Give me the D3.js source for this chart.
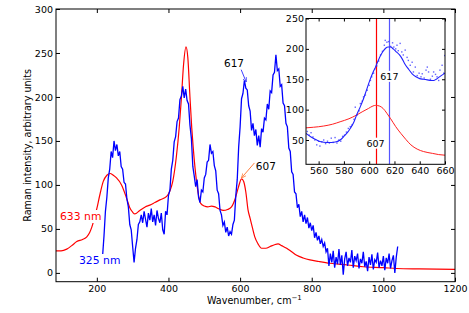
<!DOCTYPE html>
<html>
<head>
<meta charset="utf-8">
<script src="https://cdn.jsdelivr.net/npm/d3@7/dist/d3.min.js"></script>
<style>
  body { margin: 0; background: #fff; }
  svg { display: block; font-family: "DejaVu Sans", sans-serif; }
</style>
</head>
<body>
<script>
// 325 nm spectrum, sampled every 4 cm-1 starting at 216
const blueStart = 216, blueStep = 4;
const blue325 = [
  19, 42, 70, 86, 108, 118, 138, 131, 150, 139,
  146, 133, 138, 121, 118, 103, 101, 84, 75, 55,
  49, 30, 12, 28, 38, 55, 58, 66, 57, 70,
  61, 52, 68, 60, 73, 58, 66, 54, 71, 62,
  57, 68, 49, 44, 70, 66, 88, 94, 118, 128,
  149, 155, 172, 176, 197, 201, 212, 199, 209, 196,
  192, 168, 153, 121, 110, 98, 106, 86, 80, 94,
  92, 108, 112, 126, 128, 146, 136, 138, 122, 116,
  94, 90, 71, 66, 54, 58, 46, 52, 42, 47,
  44, 55, 60, 88, 106, 143, 166, 198, 204, 219,
  210, 208, 190, 184, 162, 170, 156, 163, 145, 156,
  143, 164, 160, 176, 174, 192, 186, 207, 205, 225,
  228, 248, 230, 232, 212, 214, 193, 190, 170, 166,
  142, 138, 115, 112, 92, 90, 74, 78, 64, 70,
  58, 66, 56, 63, 51, 57, 48, 54, 40, 46,
  37, 42, 33, 38, 30, 34, 24, 28, 8, 22,
  12, 25, 6, 18, 10, 27, 9, 20, -2, 16,
  24, 8, 17, 12, 26, 6, 19, 14, 22, 5,
  16, 11, 24, 7, 13, 2, 18, 9, 21, 4,
  15, 12, 23, 6, 14, 8, 19, 3, 17, 11,
  22, 5, 14, 20, 0, 18, 30
];

// 633 nm spectrum [wavenumber, intensity]
const red633 = [
  [86, 25], [100, 25], [116, 27], [130, 31], [144, 35.6], [160, 38], [172, 41], [180, 46],
  [186, 52], [193, 62], [200, 73], [208, 88], [218, 104], [228, 111], [237, 113], [246, 111],
  [255, 108], [269, 100], [283, 85], [292, 74], [300, 69], [306, 67], [320, 71], [335, 75],
  [348, 77], [362, 80], [376, 83], [395, 87], [404, 93], [412, 104], [422, 132], [430, 165],
  [436, 198], [442, 236], [449, 257], [454, 245], [460, 200], [465, 165], [469, 143], [474, 120],
  [479, 102], [484, 88], [490, 79], [500, 76], [510, 75], [520, 76], [530, 75], [540, 73],
  [553, 71], [565, 72], [576, 75], [586, 84], [595, 97], [604, 107], [610, 104], [616, 92],
  [622, 72], [628, 62], [634, 52], [641, 41], [650, 33], [660, 28], [672, 28], [684, 30],
  [696, 32], [706, 33], [716, 31], [730, 28], [744, 24], [758, 20], [776, 17], [795, 14.8],
  [820, 13], [851, 11], [900, 9], [944, 7], [1000, 6], [1037, 5], [1100, 4.5], [1200, 4]
];

// inset: zoom on 550-660 cm-1
const insetRed = [
  [550, 70], [556, 71], [564, 73], [571, 76], [577, 80], [584, 85], [590, 91], [595, 97],
  [599.5, 102], [603, 106], [605, 107], [608, 106], [611, 102], [614, 94], [617, 85], [621, 72],
  [625, 61], [629, 51], [633, 42], [638, 35], [643, 31], [650, 28], [655, 26], [660, 25]
];
const insetBlueFit = [
  [550, 61], [554, 55], [558.5, 50], [562, 47], [566, 46], [570, 46], [574, 47], [577, 50],
  [580, 56], [583, 63], [585, 69], [588, 80], [590, 91], [593, 105], [595.5, 118], [598, 133],
  [601, 151], [603, 161], [605, 170], [607, 180], [609, 189], [611, 196], [613, 201], [615, 203],
  [617, 203], [619, 200], [621, 196], [624, 190], [626, 184], [628, 176], [631, 167], [634, 159],
  [637, 154], [640, 151], [643, 150], [646, 149], [649, 148], [651, 148], [653, 150], [655, 153],
  [657, 156], [660, 160]
];
const insetBlueDots = [
  [551, 64], [552.5, 58], [554, 62], [555.5, 55], [557, 50], [558.5, 42], [560, 48], [561, 40],
  [562.5, 47], [564, 50], [565.5, 44], [567, 48], [568.5, 45], [570, 53], [571.5, 46], [573, 54],
  [574.5, 45], [576, 50], [577.5, 48], [579, 56], [580.5, 58], [582, 63], [583.5, 69], [585, 72],
  [586.5, 75], [588, 84], [589, 104], [590.5, 91], [592, 98], [593, 110], [594.5, 114], [595.5, 121],
  [597, 124], [598.5, 132], [600, 140], [601, 148], [602, 154], [603.5, 160], [604.5, 167], [606, 172],
  [607.5, 180], [609, 190], [610.5, 196], [612, 206], [612.7, 214], [614, 211], [615.3, 212], [617, 204],
  [618.5, 210], [619.5, 203], [621, 200], [622, 206], [623, 197], [624.5, 209], [625.8, 195], [627, 190],
  [628.5, 198], [630, 186], [631, 181], [632.5, 173], [634, 178], [635, 162], [636.5, 170], [638, 156],
  [639.5, 160], [641, 154], [642, 159], [643.5, 152], [645, 165], [646, 170], [647, 162], [648.5, 150],
  [650, 155], [651, 162], [652.5, 158], [653.7, 154], [655, 148], [656, 165], [657.7, 173], [659, 160],
  [659.8, 189]
];
const peakLines = [
  { wn: 605, label: "607", labelV: 39, color: "#ff0000" },
  { wn: 616, label: "617", labelV: 149, color: "#5555ff" }
];

const xTicks = [200, 400, 600, 800, 1000, 1200];
const yTicks = [0, 50, 100, 150, 200, 250, 300];
const insetXTicks = [560, 580, 600, 620, 640, 660];
const insetYTicks = [50, 100, 150, 200, 250];

const width = 469, height = 313;
const plot = { left: 56, right: 455, top: 9, bottom: 281.7 };
const box = { left: 306, right: 445, top: 18.5, bottom: 164.3 };

const svg = d3.select("body").append("svg")
  .attr("width", width)
  .attr("height", height);

const x = d3.scaleLinear([86, 1200], [plot.left, plot.right]);
const y = d3.scaleLinear([-10, 300], [plot.bottom, plot.top]);

svg.append("clipPath").attr("id", "clipMain")
  .append("rect")
  .attr("x", plot.left).attr("y", plot.top)
  .attr("width", plot.right - plot.left).attr("height", plot.bottom - plot.top);

const main = svg.append("g").attr("clip-path", "url(#clipMain)");

main.append("path")
  .datum(red633)
  .attr("d", d3.line().curve(d3.curveMonotoneX).x((d) => x(d[0])).y((d) => y(d[1])))
  .attr("fill", "none")
  .attr("stroke", "#ff0000")
  .attr("stroke-width", 1.2);

main.append("path")
  .datum(blue325.map((v, i) => [blueStart + i * blueStep, v]))
  .attr("d", d3.line().x((d) => x(d[0])).y((d) => y(d[1])))
  .attr("fill", "none")
  .attr("stroke", "#0000ff")
  .attr("stroke-width", 1.3);

// labels with white box behind
function boxedLabel(g, px, py, text, color, size, anchor) {
  const t = g.append("text")
    .attr("x", px).attr("y", py)
    .attr("fill", color)
    .attr("font-size", size)
    .attr("text-anchor", anchor || "start")
    .text(text);
  const b = t.node().getBBox();
  g.insert("rect", () => t.node())
    .attr("x", b.x - 1).attr("y", b.y)
    .attr("width", b.width + 2).attr("height", b.height)
    .attr("fill", "#fff");
  return t;
}

boxedLabel(svg, 60, 220, "633 nm", "#ff0000", 10.8);
boxedLabel(svg, 79, 264, "325 nm", "#0000ff", 10.8);

// annotations with arrows
svg.append("defs").selectAll("marker")
  .data([{ id: "arrBlue", c: "#4040ff" }, { id: "arrOrange", c: "#ff8040" }])
  .join("marker")
  .attr("id", (d) => d.id)
  .attr("viewBox", "0 0 10 10")
  .attr("refX", 9).attr("refY", 5)
  .attr("markerWidth", 5).attr("markerHeight", 5)
  .attr("orient", "auto")
  .append("path")
  .attr("d", "M0,1L10,5L0,9")
  .attr("fill", "none")
  .attr("stroke", (d) => d.c)
  .attr("stroke-width", 1.5);

svg.append("text").attr("x", x(555)).attr("y", y(234))
  .attr("font-size", 10.5).text("617");
svg.append("line")
  .attr("x1", x(603)).attr("y1", y(231)).attr("x2", x(617)).attr("y2", y(217))
  .attr("stroke", "#4040ff").attr("stroke-width", 1)
  .attr("marker-end", "url(#arrBlue)");

svg.append("text").attr("x", x(644)).attr("y", y(117))
  .attr("font-size", 10.5).text("607");
svg.append("line")
  .attr("x1", x(640)).attr("y1", y(125)).attr("x2", x(604)).attr("y2", y(108))
  .attr("stroke", "#ff8040").attr("stroke-width", 1)
  .attr("marker-end", "url(#arrOrange)");

// axes, ticks pointing inward
const tickFont = 9.5;
function styleAxis(g) {
  g.select(".domain").remove();
  g.selectAll(".tick line").attr("stroke", "#000");
  g.selectAll(".tick text").attr("font-size", tickFont).attr("font-family", "DejaVu Sans").attr("fill", "#000");
}
const fmt = d3.format("d");
svg.append("g").attr("transform", `translate(0,${plot.bottom})`)
  .call(d3.axisBottom(x).tickValues(xTicks).tickFormat(fmt).tickSize(-4).tickPadding(4)).call(styleAxis);
svg.append("g").attr("transform", `translate(0,${plot.top})`)
  .call(d3.axisTop(x).tickValues(xTicks).tickSize(-4).tickFormat("")).call(styleAxis);
svg.append("g").attr("transform", `translate(${plot.left},0)`)
  .call(d3.axisLeft(y).tickValues(yTicks).tickFormat(fmt).tickSize(-4).tickPadding(3)).call(styleAxis);
svg.append("g").attr("transform", `translate(${plot.right},0)`)
  .call(d3.axisRight(y).tickValues(yTicks).tickSize(-4).tickFormat("")).call(styleAxis);

svg.append("rect")
  .attr("x", plot.left).attr("y", plot.top)
  .attr("width", plot.right - plot.left).attr("height", plot.bottom - plot.top)
  .attr("fill", "none").attr("stroke", "#000").attr("stroke-width", 1);

// axis titles
const xTitle = svg.append("text")
  .attr("x", 207).attr("y", 303.5)
  .attr("font-size", 9.6);
xTitle.append("tspan").text("Wavenumber, cm");
xTitle.append("tspan").attr("dy", -4).attr("font-size", 7).text("\u22121");

svg.append("text")
  .attr("transform", `translate(31,${(plot.top + plot.bottom) / 2}) rotate(-90)`)
  .attr("text-anchor", "middle")
  .attr("font-size", 9.6)
  .text("Raman intensity, arbitrary units");

// inset
const ix = d3.scaleLinear([550, 660], [box.left, box.right]);
const iy = d3.scaleLinear([10, 250], [box.bottom, box.top]);

svg.append("rect")
  .attr("x", box.left).attr("y", box.top)
  .attr("width", box.right - box.left).attr("height", box.bottom - box.top)
  .attr("fill", "#fff");

svg.append("clipPath").attr("id", "clipInset")
  .append("rect")
  .attr("x", box.left).attr("y", box.top)
  .attr("width", box.right - box.left).attr("height", box.bottom - box.top);

const inset = svg.append("g").attr("clip-path", "url(#clipInset)");
const iline = d3.line().curve(d3.curveMonotoneX).x((d) => ix(d[0])).y((d) => iy(d[1]));

inset.selectAll("line.peak")
  .data(peakLines)
  .join("line")
  .attr("class", "peak")
  .attr("x1", (d) => Math.round(ix(d.wn)) + 0.5).attr("x2", (d) => Math.round(ix(d.wn)) + 0.5)
  .attr("y1", box.top).attr("y2", box.bottom)
  .style("stroke", (d) => d.color)
  .style("stroke-width", 1.2);

inset.append("path").datum(insetRed).attr("d", iline)
  .attr("fill", "none").attr("stroke", "#ff2020").attr("stroke-width", 1);

inset.selectAll("rect.dot")
  .data(insetBlueDots)
  .join("rect")
  .attr("class", "dot")
  .attr("x", (d) => ix(d[0]) - 0.7).attr("y", (d) => iy(d[1]) - 0.7)
  .attr("width", 1.4).attr("height", 1.4)
  .attr("fill", "#3030ff").attr("opacity", 0.75);

inset.append("path").datum(insetBlueFit).attr("d", iline)
  .attr("fill", "none").attr("stroke", "#2020ff").attr("stroke-width", 1.1);

peakLines.forEach((d) => {
  boxedLabel(svg, ix(d.wn), iy(d.labelV), d.label, "#000", 9.5, "middle");
});

svg.append("g").attr("transform", `translate(0,${box.bottom})`)
  .call(d3.axisBottom(ix).tickValues(insetXTicks).tickFormat(fmt).tickSize(-3).tickPadding(3)).call(styleAxis);
svg.append("g").attr("transform", `translate(0,${box.top})`)
  .call(d3.axisTop(ix).tickValues(insetXTicks).tickSize(-3).tickFormat("")).call(styleAxis);
svg.append("g").attr("transform", `translate(${box.left},0)`)
  .call(d3.axisLeft(iy).tickValues(insetYTicks).tickFormat(fmt).tickSize(-3).tickPadding(2)).call(styleAxis);
svg.append("g").attr("transform", `translate(${box.right},0)`)
  .call(d3.axisRight(iy).tickValues(insetYTicks).tickSize(-3).tickFormat("")).call(styleAxis);

svg.append("rect")
  .attr("x", box.left).attr("y", box.top)
  .attr("width", box.right - box.left).attr("height", box.bottom - box.top)
  .attr("fill", "none").attr("stroke", "#000").attr("stroke-width", 1);
</script>
</body>
</html>
